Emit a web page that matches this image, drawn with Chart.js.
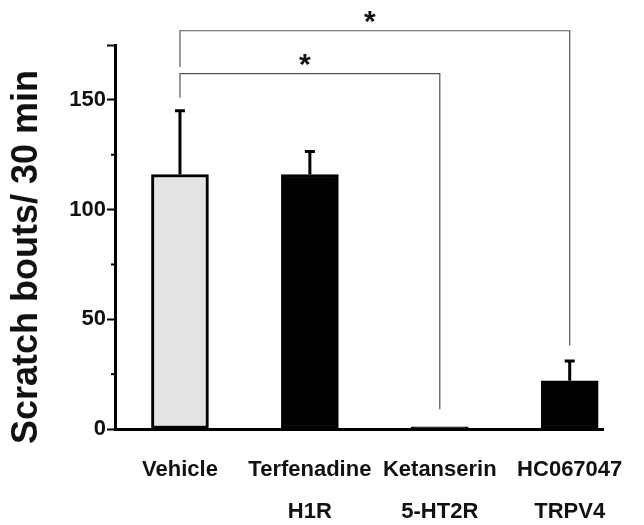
<!DOCTYPE html>
<html>
<head>
<meta charset="utf-8">
<script src="https://cdn.jsdelivr.net/npm/chart.js@4/dist/chart.umd.min.js"></script>
<style>
  html, body { margin: 0; padding: 0; background: #fff; }
  #wrap { width: 644px; height: 525px; }
</style>
</head>
<body>
<div id="wrap"><canvas id="myChart" width="644" height="525"></canvas></div>
<script>
// data
var drugs = ['Vehicle', 'Terfenadine', 'Ketanserin', 'HC067047'];
var targets = ['', 'H1R', '5-HT2R', 'TRPV4'];
var means = [116, 116, 1, 22];
var errors = [29, 10.5, 0, 9];
var barFill = ['#e3e3e3', '#000000', '#000000', '#000000'];
var yTicks = [0, 50, 100, 150];
var yMinor = [25, 75, 125];
// significance: [from bar, to bar, bracket height, left drop, right drop]
var brackets = [
  [0, 2, 162, 151, 9],
  [0, 3, 181.5, 165, 38]
];

var font = '"Liberation Sans", Arial, Helvetica, sans-serif';

(function() {
	var ctx = document.getElementById('myChart').getContext('2d');

	var points = means.map(function(v, i) { return { x: i, y: v }; });

	var extras = {
		id: 'extras',
		afterDatasetsDraw: function(chart) {
			var c = chart.ctx;
			var xs = chart.scales.x, ys = chart.scales.y;
			c.save();
			// error bars (upper only)
			c.strokeStyle = '#000';
			c.lineWidth = 3;
			means.forEach(function(m, i) {
				if (!errors[i]) return;
				var x = xs.getPixelForValue(i);
				var y0 = ys.getPixelForValue(m);
				var y1 = ys.getPixelForValue(m + errors[i]);
				c.beginPath();
				c.moveTo(x, y0);
				c.lineTo(x, y1);
				c.moveTo(x - 5, y1);
				c.lineTo(x + 5, y1);
				c.stroke();
			});
			// minor ticks
			c.lineWidth = 2;
			var ax = chart.chartArea.left;
			yMinor.forEach(function(v) {
				var y = ys.getPixelForValue(v);
				c.beginPath();
				c.moveTo(ax - 4, y);
				c.lineTo(ax, y);
				c.stroke();
			});
			// brackets
			c.strokeStyle = '#555';
			c.lineWidth = 1.2;
			c.fillStyle = '#111';
			c.font = 'bold 30px ' + font;
			c.textAlign = 'center';
			c.textBaseline = 'middle';
			brackets.forEach(function(b) {
				var xa = xs.getPixelForValue(b[0]);
				var xb = xs.getPixelForValue(b[1]);
				var yl = ys.getPixelForValue(b[2]);
				c.beginPath();
				c.moveTo(xa, ys.getPixelForValue(b[3]));
				c.lineTo(xa, yl);
				c.lineTo(xb, yl);
				c.lineTo(xb, ys.getPixelForValue(b[4]));
				c.stroke();
				c.fillText('*', (xa + xb) / 2 - 5, yl - 8);
			});
			c.restore();
		}
	};

	var myBarChart = new Chart(ctx, {
		type: 'bar',
		data: {
			datasets: [{
				data: points,
				backgroundColor: barFill,
				borderColor: '#000',
				borderWidth: 3,
				borderSkipped: false,
				barThickness: 57
			}]
		},
		options: {
			responsive: false,
			animation: false,
			layout: { padding: { top: 45, right: 39, left: 0, bottom: 0 } },
			plugins: {
				legend: { display: false },
				tooltip: { enabled: false }
			},
			scales: {
				x: {
					type: 'linear',
					offset: false,
					min: -0.5,
					max: 3.26,
					afterBuildTicks: function(scale) {
						scale.ticks = drugs.map(function(d, i) { return { value: i }; });
					},
					afterFit: function(scale) { scale.height = 96; },
					grid: { display: false, drawTicks: false },
					border: { color: '#000', width: 3 },
					ticks: {
						autoSkip: false,
						maxRotation: 0,
						padding: 19,
						color: '#111',
						font: { family: font, size: 22, weight: 'bold', lineHeight: 1.95 },
						callback: function(v) { return [drugs[v], targets[v]]; }
					}
				},
				y: {
					min: 0,
					max: 175,
					afterBuildTicks: function(scale) {
						scale.ticks = yTicks.concat([175]).map(function(v) { return { value: v }; });
					},
					afterFit: function(scale) { scale.width = 115; },
					grid: {
						drawOnChartArea: false,
						tickLength: 8,
						tickWidth: 2,
						tickColor: '#000'
					},
					border: { color: '#000', width: 3 },
					title: {
						display: true,
						text: 'Scratch bouts/ 30 min    ',
						color: '#111',
						font: { family: font, size: 36, weight: 'bold' },
						padding: { top: 5, bottom: 0 }
					},
					ticks: {
						padding: 1,
						color: '#111',
						font: { family: font, size: 22, weight: 'bold' },
						callback: function(v) { return v % 50 === 0 ? v : ''; }
					}
				}
			}
		},
		plugins: [extras]
	});
})();
</script>
</body>
</html>
